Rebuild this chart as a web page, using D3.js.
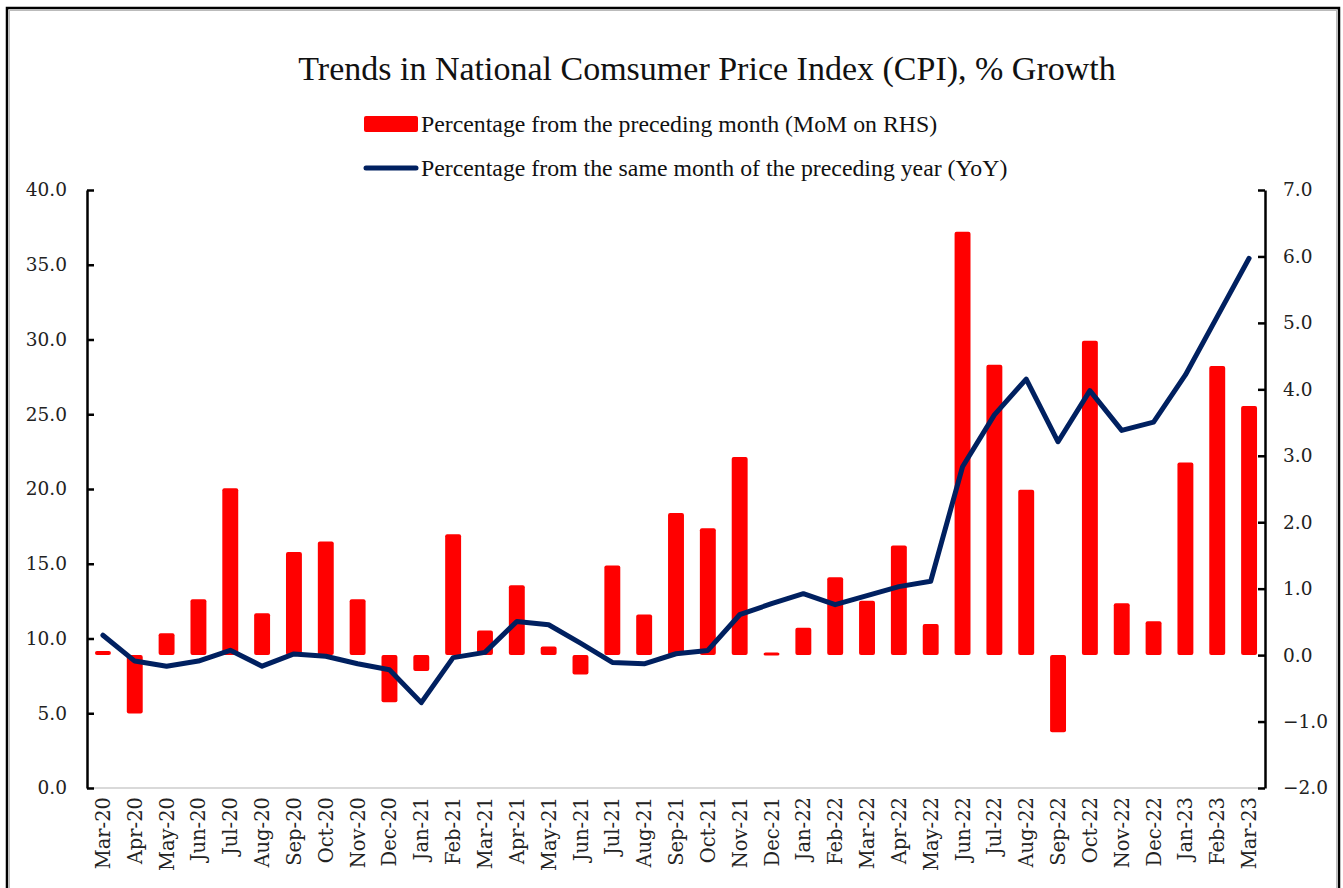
<!DOCTYPE html>
<html>
<head>
<meta charset="utf-8">
<script src="https://cdn.jsdelivr.net/npm/d3@7"></script>
<style>
    html, body { margin: 0; padding: 0; background: #fff; }
    svg { display: block; }
</style>
</head>
<body>
<svg id="chart" width="1343" height="888"></svg>
<script>
'use strict';

var months = [
    'Mar-20', 'Apr-20', 'May-20', 'Jun-20', 'Jul-20', 'Aug-20', 'Sep-20', 'Oct-20', 'Nov-20', 'Dec-20',
    'Jan-21', 'Feb-21', 'Mar-21', 'Apr-21', 'May-21', 'Jun-21', 'Jul-21', 'Aug-21', 'Sep-21', 'Oct-21',
    'Nov-21', 'Dec-21', 'Jan-22', 'Feb-22', 'Mar-22', 'Apr-22', 'May-22', 'Jun-22', 'Jul-22', 'Aug-22',
    'Sep-22', 'Oct-22', 'Nov-22', 'Dec-22', 'Jan-23', 'Feb-23', 'Mar-23'
];

// month-on-month growth, right axis
var momValues = [
    0.06, -0.88, 0.33, 0.84, 2.51, 0.63, 1.55, 1.71, 0.84, -0.71,
    -0.24, 1.82, 0.37, 1.05, 0.13, -0.29, 1.35, 0.61, 2.14, 1.91,
    2.98, 0.04, 0.41, 1.17, 0.82, 1.65, 0.47, 6.37, 4.37, 2.49,
    -1.16, 4.73, 0.78, 0.51, 2.90, 4.35, 3.75
];

// year-on-year growth, left axis
var yoyValues = [
    10.22, 8.49, 8.15, 8.49, 9.21, 8.15, 8.97, 8.81, 8.31, 7.91,
    5.71, 8.72, 9.07, 11.14, 10.92, 9.69, 8.40, 8.31, 8.98, 9.20,
    11.59, 12.33, 13.00, 12.26, 12.87, 13.47, 13.83, 21.49, 24.96, 27.35,
    23.16, 26.58, 23.92, 24.47, 27.63, 31.53, 35.43
];

var leftTicks = [0, 5, 10, 15, 20, 25, 30, 35, 40];
var rightTicks = [-2, -1, 0, 1, 2, 3, 4, 5, 6, 7];

var titleText = 'Trends in National Comsumer Price Index (CPI), % Growth';
var legendBarText = 'Percentage from the preceding month (MoM on RHS)';
var legendLineText = 'Percentage from the same month of the preceding year (YoY)';

var RED = '#ff0000',
    NAVY = '#002060',
    SERIF = '"Liberation Serif", "Times New Roman", serif',
    SLAB = '"DejaVu Serif", serif';

var plot = { left: 87, right: 1265, top: 190, bottom: 788 };

var svg = d3.select('#chart');

// outer frame
svg.append('rect')
    .attr('x', 7).attr('y', 8)
    .attr('width', 1332).attr('height', 900)
    .style('fill', 'none')
    .style('stroke', '#000')
    .style('stroke-width', 2.5);
svg.append('rect')
    .attr('x', 9.5).attr('y', 10.5)
    .attr('width', 1327).attr('height', 900)
    .style('fill', 'none')
    .style('stroke', '#bbb')
    .style('stroke-width', 1);

var x = d3.scaleBand()
    .domain(months)
    .range([plot.left, plot.right])
    .paddingInner(0.5)
    .paddingOuter(0.25);

var yLeft = d3.scaleLinear().domain([0, 40]).range([plot.bottom, plot.top]);
var yRight = d3.scaleLinear().domain([-2, 7]).range([plot.bottom, plot.top]);

// bottom category line
svg.append('line')
    .attr('x1', plot.left).attr('x2', plot.right)
    .attr('y1', plot.bottom).attr('y2', plot.bottom)
    .style('stroke', '#d9d9d9')
    .style('stroke-width', 2);

// bars (MoM, right axis)
svg.append('g').attr('class', 'bars')
    .selectAll('rect')
    .data(momValues)
    .enter().append('rect')
    .attr('x', function(d, i) { return x(months[i]); })
    .attr('width', x.bandwidth())
    .attr('y', function(d) { return Math.min(yRight(d), yRight(0)); })
    .attr('height', function(d) { return Math.max(Math.abs(yRight(d) - yRight(0)), 3); })
    .attr('rx', 2)
    .style('fill', RED);

// line (YoY, left axis)
var line = d3.line()
    .x(function(d, i) { return x(months[i]) + x.bandwidth() / 2; })
    .y(function(d) { return yLeft(d); });

svg.append('path')
    .datum(yoyValues)
    .attr('d', line)
    .style('fill', 'none')
    .style('stroke', NAVY)
    .style('stroke-width', 5)
    .style('stroke-linejoin', 'round')
    .style('stroke-linecap', 'round');

// axes
var leftAxis = d3.axisLeft(yLeft)
    .tickValues(leftTicks)
    .tickFormat(d3.format('.1f'))
    .tickSizeInner(-7)
    .tickSizeOuter(0)
    .tickPadding(20);

var rightAxis = d3.axisRight(yRight)
    .tickValues(rightTicks)
    .tickFormat(d3.format('.1f'))
    .tickSizeInner(-7)
    .tickSizeOuter(0)
    .tickPadding(18);

var gLeft = svg.append('g')
    .attr('transform', 'translate(' + plot.left + ',0)')
    .call(leftAxis);

var gRight = svg.append('g')
    .attr('transform', 'translate(' + plot.right + ',0)')
    .call(rightAxis);

[gLeft, gRight].forEach(function(g) {
    g.select('.domain').style('stroke', '#000').style('stroke-width', 2.5);
    g.selectAll('.tick line').style('stroke', '#000').style('stroke-width', 2.5);
    g.selectAll('.tick text')
        .style('font-family', SLAB)
        .style('font-size', '18.5px')
        .style('fill', '#222');
});

// rotated month labels
svg.append('g').attr('class', 'xlabels')
    .selectAll('text')
    .data(months)
    .enter().append('text')
    .attr('transform', function(d) {
        return 'translate(' + (x(d) + x.bandwidth() / 2) + ',' + (plot.bottom + 9) + ') rotate(-90)';
    })
    .attr('dy', '0.36em')
    .attr('text-anchor', 'end')
    .style('font-family', SLAB)
    .style('font-size', '19.5px')
    .style('fill', '#222')
    .text(function(d) { return d; });

// title
svg.append('text')
    .attr('x', 707)
    .attr('y', 80)
    .attr('text-anchor', 'middle')
    .style('font-family', SERIF)
    .style('font-size', '34px')
    .style('fill', '#111')
    .text(titleText);

// legend
var legend = svg.append('g').attr('class', 'legend');

legend.append('rect')
    .attr('x', 364).attr('y', 116)
    .attr('width', 54).attr('height', 16)
    .attr('rx', 2)
    .style('fill', RED);

legend.append('text')
    .attr('x', 421).attr('y', 132)
    .style('font-family', SERIF)
    .style('font-size', '23.8px')
    .style('fill', '#111')
    .text(legendBarText);

legend.append('line')
    .attr('x1', 366).attr('x2', 416)
    .attr('y1', 168).attr('y2', 168)
    .style('stroke', NAVY)
    .style('stroke-width', 5)
    .style('stroke-linecap', 'round');

legend.append('text')
    .attr('x', 421).attr('y', 176)
    .style('font-family', SERIF)
    .style('font-size', '23.8px')
    .style('fill', '#111')
    .text(legendLineText);
</script>
</body>
</html>
